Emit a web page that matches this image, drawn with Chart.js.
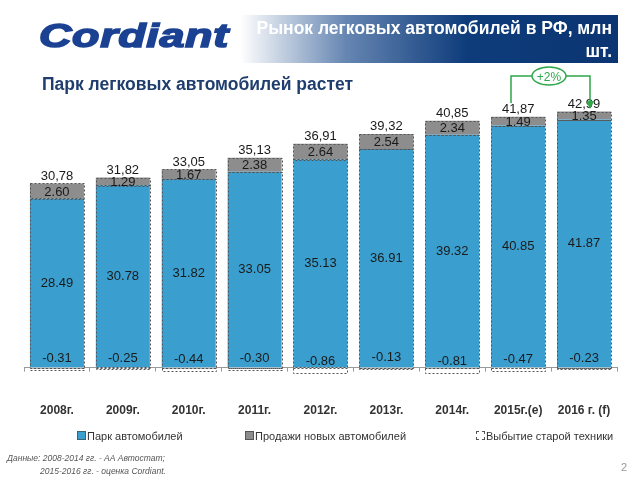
<!DOCTYPE html>
<html>
<head>
<meta charset="utf-8">
<script src="https://cdn.jsdelivr.net/npm/chart.js@4.4.1/dist/chart.umd.min.js"></script>
<style>
    body { margin: 0; width: 640px; height: 480px; background: #fff; position: relative; overflow: hidden; font-family: "Liberation Sans", Arial, sans-serif; }
    #chartWrap { position: absolute; left: 0; top: 0; width: 640px; height: 480px; }
    .logo { position: absolute; left: 39px; top: 16px; font: italic bold 34px "Liberation Sans", Arial, sans-serif; color: #1b4193; -webkit-text-stroke: 1.6px #1b4193; transform: scaleX(1.32); transform-origin: left top; letter-spacing: 0.5px; }
    .banner { position: absolute; left: 240px; top: 15px; width: 378px; height: 48px; background: linear-gradient(to right, #ffffff 0%, #6686b2 28%, #0e3c7b 60%, #0b3572 100%); }
    .banner div { position: absolute; right: 6px; color: #fff; font: bold 17.5px "Liberation Sans", Arial, sans-serif; }
    .subtitle { position: absolute; left: 42px; top: 74px; font: bold 17.5px "Liberation Sans", Arial, sans-serif; color: #1f3e6e; }
    .note { position: absolute; font: italic 8.5px "Liberation Sans", Arial, sans-serif; color: #555; }
    .page { position: absolute; left: 621px; top: 461px; font: 11px "Liberation Sans", Arial, sans-serif; color: #999; }
    .legend-item { position: absolute; top: 430px; font: 11px "Liberation Sans", Arial, sans-serif; color: #333; white-space: nowrap; }
    .legend-item span { display: inline-block; width: 7px; height: 7px; margin-right: 1px; vertical-align: -0px; }
    svg { position: absolute; left: 0; top: 0; }
</style>
</head>
<body>
<div id="chartWrap"><canvas id="barChart" width="640" height="480"></canvas></div>
<div class="logo">Cordiant</div>
<div class="banner">
    <div style="top: 3px;">Рынок легковых автомобилей в РФ, млн</div>
    <div style="top: 26px;">шт.</div>
</div>
<div class="subtitle">Парк легковых автомобилей растет</div>
<svg width="640" height="120">
    <polyline points="511,103 511,76 532,76" fill="none" stroke="#2ea84a" stroke-width="1.5"/>
    <polyline points="566,76 590,76 590,104" fill="none" stroke="#2ea84a" stroke-width="1.5"/>
    <polygon points="586,101 594,101 590,109" fill="#2ea84a"/>
    <ellipse cx="549" cy="76" rx="17" ry="9" fill="#fff" stroke="#2ea84a" stroke-width="1.5"/>
    <text x="549" y="80.5" text-anchor="middle" font-family="Liberation Sans, Arial" font-size="12" fill="#2ea84a">+2%</text>
</svg>
<div id="legend"></div>
<div class="note" style="left: 7px; top: 453px;">Данные: 2008-2014 гг. - АА Автостат;</div>
<div class="note" style="left: 40px; top: 466px;">2015-2016 гг. - оценка Cordiant.</div>
<div class="page">2</div>

<script>
// chart values
const years = ['2008г.', '2009г.', '2010г.', '2011г.', '2012г.', '2013г.', '2014г.', '2015г.(е)', '2016 г. (f)'];
const park = [28.49, 30.78, 31.82, 33.05, 35.13, 36.91, 39.32, 40.85, 41.87];
const sales = [2.60, 1.29, 1.67, 2.38, 2.64, 2.54, 2.34, 1.49, 1.35];
const scrap = [-0.31, -0.25, -0.44, -0.30, -0.86, -0.13, -0.81, -0.47, -0.23];
const totals = [30.78, 31.82, 33.05, 35.13, 36.91, 39.32, 40.85, 41.87, 42.99];

// dashed outlines + value labels
const barDecor = {
    id: 'barDecor',
    afterDatasetsDraw(chart) {
        let ctx = chart.ctx;
        ctx.save();
        ctx.strokeStyle = '#555';
        ctx.lineWidth = 1;
        ctx.setLineDash([2, 2]);
        chart.data.datasets.forEach((ds, i) => {
            chart.getDatasetMeta(i).data.forEach(el => {
                let top = Math.min(el.y, el.base), h = Math.abs(el.base - el.y);
                ctx.strokeRect(Math.round(el.x - el.width / 2) + 0.5, Math.round(top) + 0.5, Math.round(el.width), Math.round(h));
            });
        });
        ctx.setLineDash([]);

        ctx.fillStyle = '#1a1a1a';
        ctx.textAlign = 'center';
        ctx.textBaseline = 'middle';
        ctx.font = '13px "Liberation Sans", Arial, sans-serif';
        chart.getDatasetMeta(0).data.forEach((el, j) => {
            ctx.fillText(park[j].toFixed(2), el.x, (el.y + el.base) / 2);
        });
        chart.getDatasetMeta(1).data.forEach((el, j) => {
            ctx.fillText(sales[j].toFixed(2), el.x, (el.y + el.base) / 2 + 1);
            ctx.fillText(totals[j].toFixed(2).replace('.', ','), el.x, el.y - 7);
        });
        chart.getDatasetMeta(2).data.forEach((el, j) => {
            ctx.fillText(scrap[j].toFixed(2), el.x, el.y - 11);
        });
        ctx.restore();
    }
};

document.addEventListener('DOMContentLoaded', function () {
    let barCtx = document.getElementById('barChart').getContext('2d');

    let barChart = new Chart(barCtx, {
        type: 'bar',
        data: {
            labels: years,
            datasets: [{
                label: 'Парк автомобилей',
                data: park,
                backgroundColor: '#3a9fcf',
                borderWidth: 0
            }, {
                label: 'Продажи новых автомобилей',
                data: sales,
                backgroundColor: '#8d8d8d',
                borderWidth: 0
            }, {
                label: 'Выбытие старой техники',
                data: scrap,
                backgroundColor: '#ffffff',
                borderWidth: 0,
                clip: false
            }]
        },
        plugins: [barDecor],
        options: {
            responsive: false,
            animation: false,
            layout: { padding: { left: 24, right: 23, top: 101, bottom: 30 } },
            datasets: { bar: { categoryPercentage: 1, barPercentage: 0.82 } },
            scales: {
                x: {
                    stacked: true,
                    afterFit(scale) {
                        scale.paddingLeft = 0;
                        scale.paddingRight = 0;
                    },
                    grid: { drawOnChartArea: false, tickLength: 4, color: '#999', offset: true },
                    border: { color: '#999' },
                    ticks: { color: '#333', padding: 32, font: { family: '"Liberation Sans", Arial, sans-serif', size: 12, weight: 'bold' } }
                },
                y: {
                    stacked: true,
                    display: false,
                    min: 0,
                    max: 45
                }
            },
            plugins: {
                tooltip: { enabled: false },
                legend: { display: false }
            }
        }
    });

    // legend built from the chart's datasets
    let legendLeft = [77, 245, 476];
    let legendBorder = ['1px solid #3b6275', '1px solid #555', '1px dashed #555'];
    let legendEl = document.getElementById('legend');
    barChart.data.datasets.forEach((ds, i) => {
        let item = document.createElement('div');
        item.className = 'legend-item';
        item.style.left = legendLeft[i] + 'px';
        let box = document.createElement('span');
        box.style.background = ds.backgroundColor;
        box.style.border = legendBorder[i];
        item.appendChild(box);
        item.appendChild(document.createTextNode(ds.label));
        legendEl.appendChild(item);
    });
});
</script>
</body>
</html>
